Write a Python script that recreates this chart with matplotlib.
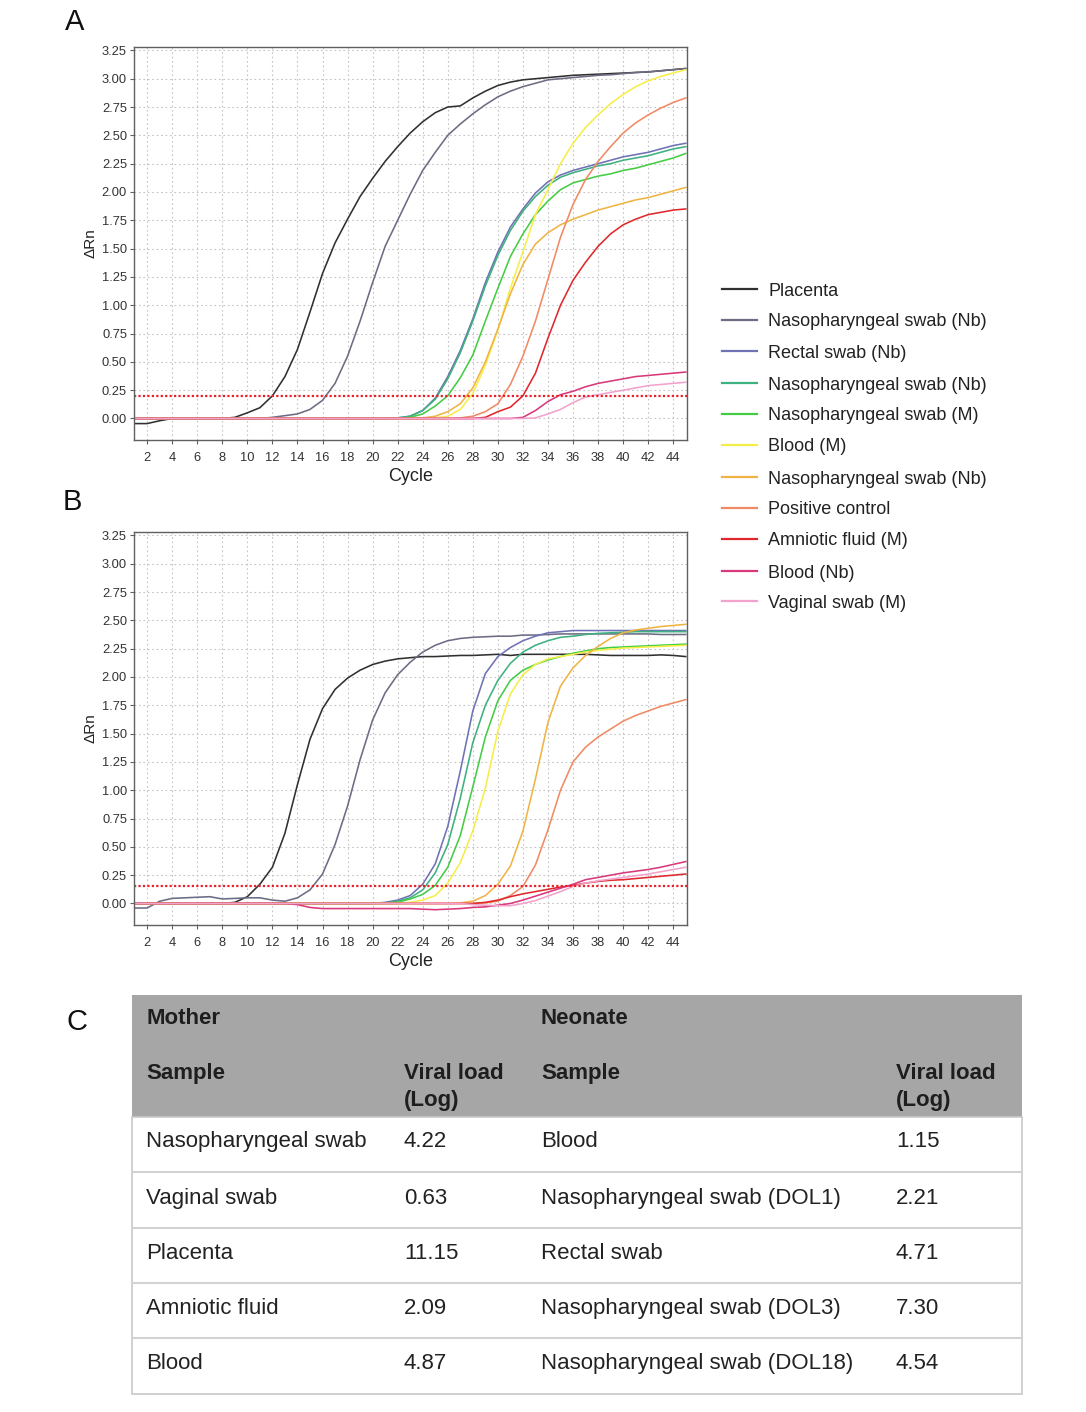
import numpy as np
import matplotlib
matplotlib.use('Agg')
import matplotlib.pyplot as plt
from matplotlib.patches import Rectangle
from matplotlib.lines import Line2D

plt.rcParams['font.family'] = ['Liberation Sans', 'DejaVu Sans']

W, H = 1086, 1412

cycles = list(range(1, 46))

series_labels = ["Placenta", "Nasopharyngeal swab (Nb)", "Rectal swab (Nb)",
                 "Nasopharyngeal swab (Nb)", "Nasopharyngeal swab (M)", "Blood (M)",
                 "Nasopharyngeal swab (Nb)", "Positive control", "Amniotic fluid (M)",
                 "Blood (Nb)", "Vaginal swab (M)"]
series_colors = ["#303030", "#6c6c84", "#6f72b4", "#3fb080", "#45cc45", "#f6ee48",
                 "#f0b444", "#f08a64", "#e0282c", "#d8387c", "#f2a2cc"]

# ---------------- Panel A (cycle 1..45) ----------------
placenta_A = [-0.045, -0.045, -0.02, 0, 0, 0, 0, 0, 0.01, 0.05,
              0.095, 0.2, 0.37, 0.61, 0.94, 1.28, 1.55, 1.76, 1.96, 2.12,
              2.27, 2.40, 2.52, 2.62, 2.70, 2.75, 2.76, 2.83, 2.89, 2.94,
              2.97, 2.99, 3.00, 3.01, 3.02, 3.03, 3.035, 3.04, 3.045, 3.05,
              3.055, 3.06, 3.07, 3.08, 3.09]
np_nb1_A = [0, 0, 0, 0, 0, 0, 0, 0, 0, 0,
            0, 0.01, 0.025, 0.04, 0.08, 0.16, 0.31, 0.55, 0.86, 1.20,
            1.52, 1.75, 1.98, 2.19, 2.35, 2.50, 2.60, 2.69, 2.77, 2.84,
            2.89, 2.93, 2.96, 2.99, 3.00, 3.01, 3.02, 3.03, 3.035, 3.045,
            3.055, 3.06, 3.07, 3.08, 3.09]
rectal_A = [0, 0, 0, 0, 0, 0, 0, 0, 0, 0,
            0, 0, 0, 0, 0, 0, 0, 0, 0, 0,
            0, 0.005, 0.02, 0.07, 0.18, 0.37, 0.60, 0.88, 1.20, 1.47,
            1.69, 1.85, 1.99, 2.09, 2.15, 2.19, 2.22, 2.25, 2.28, 2.31,
            2.33, 2.35, 2.38, 2.41, 2.43]
np_nb2_A = [0, 0, 0, 0, 0, 0, 0, 0, 0, 0,
            0, 0, 0, 0, 0, 0, 0, 0, 0, 0,
            0, 0.005, 0.02, 0.07, 0.17, 0.35, 0.58, 0.86, 1.17, 1.44,
            1.66, 1.83, 1.96, 2.06, 2.13, 2.17, 2.20, 2.23, 2.25, 2.28,
            2.30, 2.32, 2.35, 2.38, 2.40]
np_m_A = [0, 0, 0, 0, 0, 0, 0, 0, 0, 0,
          0, 0, 0, 0, 0, 0, 0, 0, 0, 0,
          0, 0, 0.01, 0.04, 0.11, 0.2, 0.36, 0.56, 0.86, 1.15,
          1.43, 1.63, 1.80, 1.92, 2.02, 2.08, 2.11, 2.14, 2.16, 2.19,
          2.21, 2.24, 2.27, 2.30, 2.34]
blood_m_A = [0, 0, 0, 0, 0, 0, 0, 0, 0, 0,
             0, 0, 0, 0, 0, 0, 0, 0, 0, 0,
             0, 0, 0, 0, 0.005, 0.02, 0.08, 0.22, 0.47, 0.78,
             1.15, 1.47, 1.80, 2.02, 2.25, 2.43, 2.57, 2.68, 2.78, 2.86,
             2.93, 2.98, 3.02, 3.05, 3.08]
np_nb3_A = [0, 0, 0, 0, 0, 0, 0, 0, 0, 0,
            0, 0, 0, 0, 0, 0, 0, 0, 0, 0,
            0, 0, 0, 0.005, 0.02, 0.06, 0.13, 0.27, 0.50, 0.79,
            1.10, 1.36, 1.54, 1.64, 1.71, 1.76, 1.80, 1.84, 1.87, 1.90,
            1.93, 1.95, 1.98, 2.01, 2.04]
pos_ctrl_A = [0, 0, 0, 0, 0, 0, 0, 0, 0, 0,
              0, 0, 0, 0, 0, 0, 0, 0, 0, 0,
              0, 0, 0, 0, 0, 0, 0.005, 0.02, 0.06, 0.13,
              0.30, 0.55, 0.86, 1.23, 1.60, 1.89, 2.11, 2.27, 2.40, 2.52,
              2.61, 2.68, 2.74, 2.79, 2.83]
amniotic_A = [0, 0, 0, 0, 0, 0, 0, 0, 0, 0,
              0, 0, 0, 0, 0, 0, 0, 0, 0, 0,
              0, 0, 0, 0, 0, 0, 0, 0, 0.01, 0.06,
              0.10, 0.2, 0.40, 0.71, 1.00, 1.22, 1.38, 1.52, 1.63, 1.71,
              1.76, 1.80, 1.82, 1.84, 1.85]
blood_nb_A = [0, 0, 0, 0, 0, 0, 0, 0, 0, 0,
              0, 0, 0, 0, 0, 0, 0, 0, 0, 0,
              0, 0, 0, 0, 0, 0, 0, 0, 0, 0,
              0, 0.01, 0.07, 0.15, 0.21, 0.24, 0.28, 0.31, 0.33, 0.35,
              0.37, 0.38, 0.39, 0.40, 0.41]
vaginal_A = [0, 0, 0, 0, 0, 0, 0, 0, 0, 0,
             0, 0, 0, 0, 0, 0, 0, 0, 0, 0,
             0, 0, 0, 0, 0, 0, 0, 0, 0, 0,
             0, 0, 0.005, 0.04, 0.08, 0.14, 0.19, 0.21, 0.23, 0.25,
             0.27, 0.29, 0.30, 0.31, 0.32]
threshold_A = 0.20

# ---------------- Panel B (cycle 1..45) ----------------
placenta_B = [0, 0, 0, 0, 0, 0, 0, 0, 0.01, 0.06,
              0.17, 0.32, 0.62, 1.05, 1.45, 1.72, 1.89, 1.99, 2.06, 2.11,
              2.14, 2.16, 2.17, 2.18, 2.18, 2.185, 2.19, 2.19, 2.195, 2.20,
              2.19, 2.20, 2.20, 2.20, 2.20, 2.20, 2.20, 2.195, 2.19, 2.19,
              2.19, 2.19, 2.195, 2.19, 2.18]
np_nb1_B = [-0.04, -0.04, 0.02, 0.045, 0.05, 0.055, 0.06, 0.04, 0.045, 0.05,
            0.05, 0.03, 0.02, 0.05, 0.12, 0.26, 0.52, 0.86, 1.27, 1.62,
            1.86, 2.02, 2.13, 2.22, 2.28, 2.32, 2.34, 2.35, 2.355, 2.36,
            2.36, 2.37, 2.37, 2.375, 2.38, 2.38, 2.38, 2.38, 2.38, 2.38,
            2.38, 2.38, 2.375, 2.375, 2.375]
rectal_B = [0, 0, 0, 0, 0, 0, 0, 0, 0, 0,
            0, 0, 0, 0, 0, 0, 0, 0, 0, 0,
            0.01, 0.03, 0.07, 0.17, 0.35, 0.68, 1.17, 1.70, 2.03, 2.18,
            2.26, 2.32, 2.36, 2.39, 2.40, 2.41, 2.41, 2.41, 2.41, 2.41,
            2.41, 2.41, 2.41, 2.41, 2.41]
np_nb2_B = [0, 0, 0, 0, 0, 0, 0, 0, 0, 0,
            0, 0, 0, 0, 0, 0, 0, 0, 0, 0,
            0.005, 0.02, 0.05, 0.12, 0.27, 0.52, 0.93, 1.42, 1.75, 1.97,
            2.12, 2.22, 2.28, 2.32, 2.35, 2.36, 2.375, 2.385, 2.39, 2.395,
            2.40, 2.40, 2.40, 2.40, 2.40]
np_m_B = [0, 0, 0, 0, 0, 0, 0, 0, 0, 0,
          0, 0, 0, 0, 0, 0, 0, 0, 0, 0,
          0, 0.01, 0.04, 0.08, 0.16, 0.32, 0.60, 1.03, 1.47, 1.79,
          1.97, 2.06, 2.11, 2.15, 2.18, 2.21, 2.23, 2.25, 2.26, 2.265,
          2.27, 2.275, 2.28, 2.285, 2.29]
blood_m_B = [0, 0, 0, 0, 0, 0, 0, 0, 0, 0,
             0, 0, 0, 0, 0, 0, 0, 0, 0, 0,
             0, 0, 0.01, 0.03, 0.07, 0.18, 0.36, 0.64, 1.02, 1.52,
             1.85, 2.02, 2.11, 2.16, 2.18, 2.20, 2.22, 2.235, 2.245, 2.255,
             2.26, 2.265, 2.27, 2.275, 2.28]
np_nb3_B = [0, 0, 0, 0, 0, 0, 0, 0, 0, 0,
            0, 0, 0, 0, 0, 0, 0, 0, 0, 0,
            0, 0, 0, 0, 0, 0, 0.005, 0.02, 0.07, 0.17,
            0.33, 0.64, 1.10, 1.60, 1.92, 2.08, 2.19, 2.27, 2.34, 2.39,
            2.415, 2.43, 2.445, 2.455, 2.465]
pos_ctrl_B = [0, 0, 0, 0, 0, 0, 0, 0, 0, 0,
              0, 0, 0, 0, 0, 0, 0, 0, 0, 0,
              0, 0, 0, 0, 0, 0, 0, 0, 0.005, 0.02,
              0.07, 0.15, 0.34, 0.65, 1.00, 1.25, 1.38, 1.47, 1.54, 1.61,
              1.66, 1.70, 1.74, 1.77, 1.80]
amniotic_B = [0, 0, 0, 0, 0, 0, 0, 0, 0, 0,
              0, 0, 0, 0, 0, 0, 0, 0, 0, 0,
              0, 0, 0, 0, 0, 0, 0, 0, 0.01, 0.03,
              0.06, 0.085, 0.105, 0.125, 0.145, 0.16, 0.18, 0.195, 0.205, 0.21,
              0.22, 0.23, 0.24, 0.25, 0.26]
blood_nb_B = [0, 0, 0, 0, 0, 0, 0, 0, 0, 0,
              0, 0, 0, -0.01, -0.035, -0.045, -0.045, -0.045, -0.045, -0.045,
              -0.045, -0.045, -0.045, -0.05, -0.055, -0.05, -0.045, -0.035, -0.03, -0.015,
              0.0, 0.03, 0.065, 0.10, 0.135, 0.17, 0.21, 0.23, 0.25, 0.27,
              0.285, 0.30, 0.32, 0.345, 0.37]
vaginal_B = [0, 0, 0, 0, 0, 0, 0, 0, 0, 0,
             0, 0, 0, 0, 0, 0, 0, 0, 0, 0,
             0, 0, 0, 0, 0, 0, 0, -0.01, -0.015, -0.02,
             -0.02, 0.0, 0.025, 0.065, 0.105, 0.15, 0.18, 0.20, 0.215, 0.23,
             0.245, 0.26, 0.28, 0.30, 0.32]
threshold_B = 0.152

series_A = [placenta_A, np_nb1_A, rectal_A, np_nb2_A, np_m_A, blood_m_A,
            np_nb3_A, pos_ctrl_A, amniotic_A, blood_nb_A, vaginal_A]
series_B = [placenta_B, np_nb1_B, rectal_B, np_nb2_B, np_m_B, blood_m_B,
            np_nb3_B, pos_ctrl_B, amniotic_B, blood_nb_B, vaginal_B]

x_ticks = list(range(2, 45, 2))
y_ticks = [0.00, 0.25, 0.50, 0.75, 1.00, 1.25, 1.50, 1.75, 2.00, 2.25, 2.50, 2.75, 3.00, 3.25]

# ---------------- Table (panel C) ----------------
mother_samples = ["Nasopharyngeal swab", "Vaginal swab", "Placenta", "Amniotic fluid", "Blood"]
mother_loads = ["4.22", "0.63", "11.15", "2.09", "4.87"]
neonate_samples = ["Blood", "Nasopharyngeal swab (DOL1)", "Rectal swab",
                   "Nasopharyngeal swab (DOL3)", "Nasopharyngeal swab (DOL18)"]
neonate_loads = ["1.15", "2.21", "4.71", "7.30", "4.54"]


def fx(px):
    return px / W


def fy(py):
    return 1 - py / H


fig = plt.figure(figsize=(W / 100, H / 100), dpi=100)
fig.patch.set_facecolor('white')


def make_panel(top_px, bottom_px, series, threshold):
    ax = fig.add_axes([fx(134), fy(bottom_px), fx(687) - fx(134), fy(top_px) - fy(bottom_px)])
    ax.set_xlim(0.95, 45.1)
    ax.set_ylim(-0.19, 3.28)
    ax.set_xticks(x_ticks)
    ax.set_yticks(y_ticks)
    ax.set_yticklabels(["%.2f" % v for v in y_ticks])
    ax.grid(True, linestyle=(0, (1.5, 2.5)), color='#c4c4c4', linewidth=0.8)
    ax.set_axisbelow(True)
    for s in ax.spines.values():
        s.set_color('#606060')
        s.set_linewidth(1.0)
    ax.tick_params(axis='both', labelsize=9.3, length=3, width=0.8, color='#606060',
                   labelcolor='#333333')
    ax.tick_params(axis='x', pad=5.5)
    ax.tick_params(axis='y', pad=2)
    for vals, col in zip(series, series_colors):
        ax.plot(cycles, vals, color=col, linewidth=1.15, solid_joinstyle='round')
    ax.axhline(threshold, color='#e8202a', linewidth=1.6, linestyle=(0, (1, 1)))
    ax.set_xlabel('Cycle', fontsize=13, color='#222222', labelpad=3)
    ax.set_ylabel('ΔRn', fontsize=11, color='#222222', labelpad=3)
    return ax


axA = make_panel(47, 440, series_A, threshold_A)
axB = make_panel(532, 925, series_B, threshold_B)

# Panel letters
fig.text(fx(75), fy(22), 'A', fontsize=21, ha='center', va='center', color='#111111')
fig.text(fx(72), fy(502), 'B', fontsize=21, ha='center', va='center', color='#111111')
fig.text(fx(77), fy(1022), 'C', fontsize=21, ha='center', va='center', color='#111111')

# Legend
legend_y = [289, 320, 351, 383, 414, 445, 477, 508, 539, 571, 601]
for lab, col, ly in zip(series_labels, series_colors, legend_y):
    fig.add_artist(Line2D([fx(722), fx(757)], [fy(ly), fy(ly)], color=col, linewidth=1.6,
                          transform=fig.transFigure))
    fig.text(fx(768), fy(ly), lab, fontsize=13, ha='left', va='center_baseline',
             color='#222222')

# Table
tab = fig.add_axes([0, 0, 1, 1])
tab.set_xlim(0, W)
tab.set_ylim(H, 0)
tab.axis('off')
tab.patch.set_alpha(0)

tx0, tx1 = 132, 1022
hy0, hy1 = 995, 1117
row_edges = [1117, 1172, 1228, 1283, 1338, 1394]
tab.add_patch(Rectangle((tx0, hy0), tx1 - tx0, hy1 - hy0, facecolor='#a6a6a6', edgecolor='none'))
tab.add_patch(Rectangle((tx0, hy1), tx1 - tx0, row_edges[-1] - hy1, facecolor='white',
                        edgecolor='#c8c8c8', linewidth=1.2))
for ry in row_edges[1:-1]:
    tab.plot([tx0, tx1], [ry, ry], color='#d2d2d2', linewidth=1.5)

col_x = [146, 404, 541, 896]
hdr_kw = dict(fontsize=16, fontweight='bold', color='#1e1e1e', ha='left', va='center_baseline')
tab.text(col_x[0], 1016, 'Mother', **hdr_kw)
tab.text(col_x[2], 1016, 'Neonate', **hdr_kw)
tab.text(col_x[0], 1071, 'Sample', **hdr_kw)
tab.text(col_x[1], 1071, 'Viral load', **hdr_kw)
tab.text(col_x[1], 1098, '(Log)', **hdr_kw)
tab.text(col_x[2], 1071, 'Sample', **hdr_kw)
tab.text(col_x[3], 1071, 'Viral load', **hdr_kw)
tab.text(col_x[3], 1098, '(Log)', **hdr_kw)

row_text_y = [1139, 1196, 1251, 1306, 1361]
body_kw = dict(fontsize=16, color='#222222', ha='left', va='center_baseline')
for i, ty in enumerate(row_text_y):
    tab.text(col_x[0], ty, mother_samples[i], **body_kw)
    tab.text(col_x[1], ty, mother_loads[i], **body_kw)
    tab.text(col_x[2], ty, neonate_samples[i], **body_kw)
    tab.text(col_x[3], ty, neonate_loads[i], **body_kw)

fig.savefig('out.png', dpi=100, facecolor='white')
